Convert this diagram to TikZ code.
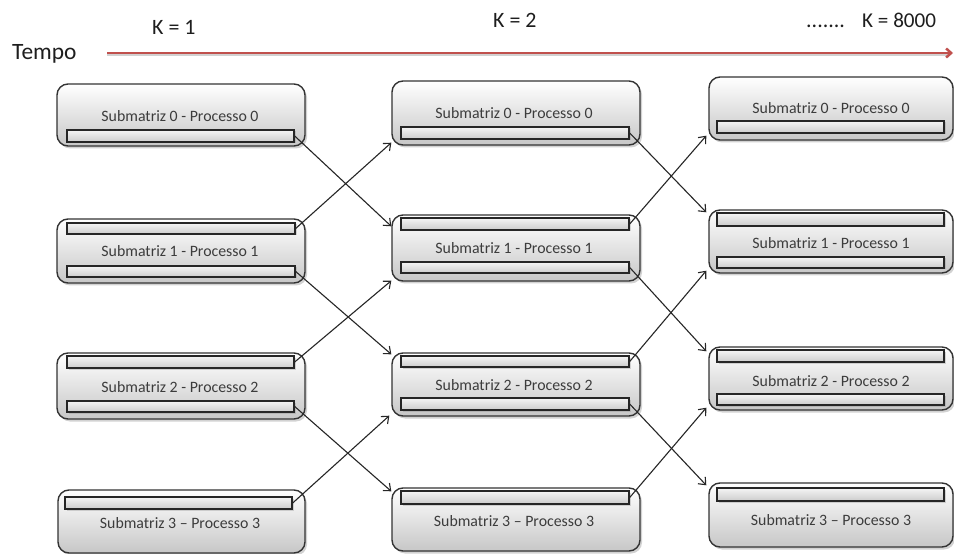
\documentclass[tikz,border=0pt]{standalone}
\usepackage{fontspec}
\setmainfont{Carlito}
\usetikzlibrary{calc,fit,shadows,arrows.meta}
\definecolor{timered}{HTML}{C0504D}
\definecolor{boxedge}{HTML}{333333}
\definecolor{labelgray}{HTML}{3C3C3C}
\definecolor{headgray}{HTML}{1E1E1E}

\begin{document}
\begin{tikzpicture}[x=1bp,y=-1bp,
  procbox/.style={draw=boxedge, line width=1.4bp, rounded corners=11bp,
    top color=white, bottom color=black!22, inner sep=0pt,
    drop shadow={shadow xshift=2bp, shadow yshift=-2.5bp, opacity=0.35}},
  bufbar/.style={draw=black!85, line width=1.4bp, inner sep=0pt,
    top color=black!4, bottom color=black!20,
    drop shadow={shadow xshift=1.5bp, shadow yshift=-1.5bp, opacity=0.3}},
  boxlabel/.style={text=labelgray, font=\fontsize{15.9}{18}\selectfont,
    inner sep=0pt, anchor=base},
  headlabel/.style={text=headgray, font=\fontsize{22}{26}\selectfont,
    inner sep=0pt, anchor=base west},
  comm/.style={draw=black!85, line width=1.1bp,
    -{Straight Barb[length=6bp,width=10bp]}},
  timeline/.style={draw=timered, line width=2.5bp,
    -{Straight Barb[length=5bp,width=9bp]}}
]
\fill[white] (0,0) rectangle (954,554);
\useasboundingbox (0,0) rectangle (954,554);

% ---- time axis and headings ----
\node[headlabel, font=\fontsize{23.5}{27}\selectfont] (tempo) at (12,60) {Tempo};
\coordinate (tstart) at (107,53);
\coordinate (tend) at (953,53);
\draw[black, opacity=0.18, line width=2bp] ($(tstart)+(0,2)$) -- ($(tend)+(-4,2)$);
\draw[timeline] (tstart) -- (tend);
\node[headlabel] (k1) at (152,35) {K = 1};
\node[headlabel] (k2) at (493,28) {K = 2};
\node[headlabel] (kdots) at (806,28) {.......};
\node[headlabel, font=\fontsize{21.2}{25}\selectfont] (k8000) at (862,28) {K = 8000};

% ---- column 1 ----
\node[procbox, fit={(57,84) (305,146)}] (c1b0) {};
\node[bufbar, fit={(67,130) (294,142)}] (c1b0bot) {};
\node[boxlabel] (c1b0t) at (180,122) {Submatriz 0 - Processo 0};

\node[procbox, fit={(57,219) (305,283)}] (c1b1) {};
\node[bufbar, fit={(67,223) (295,234)}] (c1b1top) {};
\node[bufbar, fit={(67,266) (295,277)}] (c1b1bot) {};
\node[boxlabel] (c1b1t) at (180,257) {Submatriz 1 - Processo 1};

\node[procbox, fit={(57,353) (305,419)}] (c1b2) {};
\node[bufbar, fit={(67,356) (294,368)}] (c1b2top) {};
\node[bufbar, fit={(67,401) (294,412)}] (c1b2bot) {};
\node[boxlabel] (c1b2t) at (180,392) {Submatriz 2 - Processo 2};

\node[procbox, fit={(58,490) (305,553)}] (c1b3) {};
\node[bufbar, fit={(65,497) (292,509)}] (c1b3top) {};
\node[boxlabel] (c1b3t) at (180,528) {Submatriz 3 -- Processo 3};

% ---- column 2 ----
\node[procbox, fit={(392,81) (640,145)}] (c2b0) {};
\node[bufbar, fit={(401,127) (629,139)}] (c2b0bot) {};
\node[boxlabel] (c2b0t) at (514,119) {Submatriz 0 - Processo 0};

\node[procbox, fit={(392,215) (640,281)}] (c2b1) {};
\node[bufbar, fit={(401,218) (629,230)}] (c2b1top) {};
\node[bufbar, fit={(401,262) (629,273)}] (c2b1bot) {};
\node[boxlabel] (c2b1t) at (514,254) {Submatriz 1 - Processo 1};

\node[procbox, fit={(392,353) (640,416)}] (c2b2) {};
\node[bufbar, fit={(401,356) (629,367)}] (c2b2top) {};
\node[bufbar, fit={(401,398) (629,410)}] (c2b2bot) {};
\node[boxlabel] (c2b2t) at (514,390) {Submatriz 2 - Processo 2};

\node[procbox, fit={(392,488) (640,551)}] (c2b3) {};
\node[bufbar, fit={(401,491) (629,504)}] (c2b3top) {};
\node[boxlabel] (c2b3t) at (514,526) {Submatriz 3 -- Processo 3};

% ---- column 3 ----
\node[procbox, fit={(709,77) (953,140)}] (c3b0) {};
\node[bufbar, fit={(717,121) (944,133)}] (c3b0bot) {};
\node[boxlabel] (c3b0t) at (831,114) {Submatriz 0 - Processo 0};

\node[procbox, fit={(709,210) (953,273)}] (c3b1) {};
\node[bufbar, fit={(717,213) (944,226)}] (c3b1top) {};
\node[bufbar, fit={(717,257) (944,268)}] (c3b1bot) {};
\node[boxlabel] (c3b1t) at (831,249) {Submatriz 1 - Processo 1};

\node[procbox, fit={(709,347) (953,410)}] (c3b2) {};
\node[bufbar, fit={(717,350) (944,362)}] (c3b2top) {};
\node[bufbar, fit={(717,394) (944,405)}] (c3b2bot) {};
\node[boxlabel] (c3b2t) at (831,386) {Submatriz 2 - Processo 2};

\node[procbox, fit={(709,483) (953,547)}] (c3b3) {};
\node[bufbar, fit={(717,488) (944,501)}] (c3b3top) {};
\node[boxlabel] (c3b3t) at (831,525) {Submatriz 3 -- Processo 3};

% ---- border exchanges, step 1 -> 2 ----
\draw[comm] (c1b0bot.east) -- ($(c2b1.north west)+(0,12)$);
\draw[comm] (c1b1top.east) -- ($(c2b0.south west)+(0,-3)$);
\draw[comm] (c1b1bot.east) -- ($(c2b2.north west)+(0,2)$);
\draw[comm] (c1b2top.east) -- ($(c2b1.south west)+(0,-1)$);
\draw[comm] (c1b2bot.east) -- ($(c2b3.north west)+(0,4)$);
\draw[comm] (c1b3top.east) -- ($(c2b2.south west)+(-2,-1)$);

% ---- border exchanges, step 2 -> 3 ----
\draw[comm] (c2b0bot.east) -- ($(c3b1.north west)+(-2,3)$);
\draw[comm] (c2b1top.east) -- ($(c3b0.south west)+(-2,-5)$);
\draw[comm] (c2b1bot.east) -- ($(c3b2.north west)+(-2,5)$);
\draw[comm] (c2b2top.east) -- ($(c3b1.south west)+(-2,-3)$);
\draw[comm] (c2b2bot.east) -- ($(c3b3.north west)+(-2,3)$);
\draw[comm] (c2b3top.east) -- ($(c3b2.south west)+(-2,-3)$);
\end{tikzpicture}
\end{document}
